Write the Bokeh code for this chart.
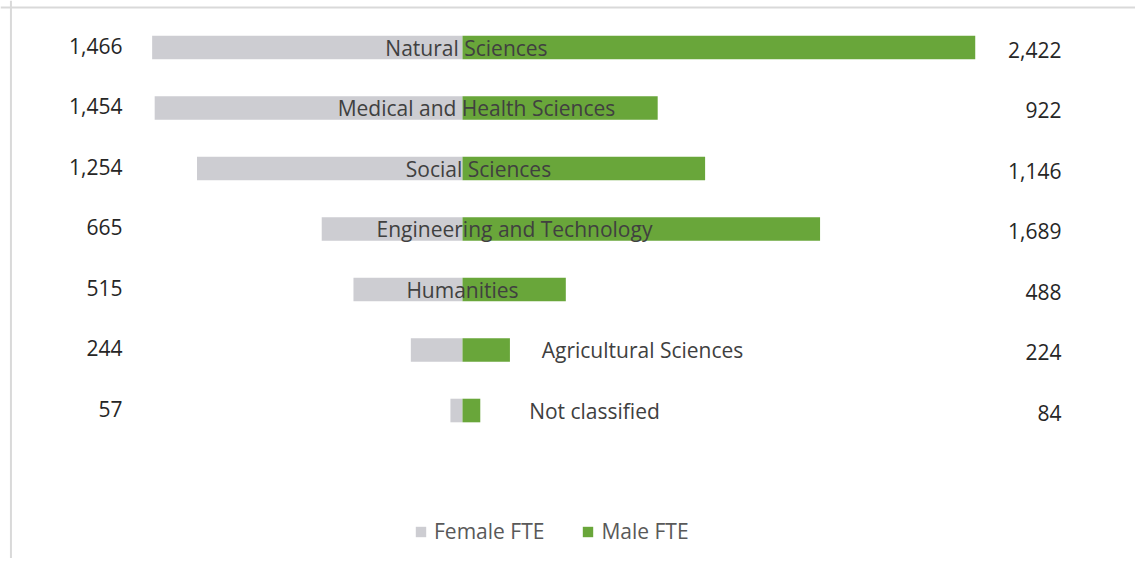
from bokeh.plotting import figure
from bokeh.models import Range1d, ColumnDataSource, Span, Legend, LegendItem
from bokeh.core.properties import value
from bokeh.embed import file_html
from bokeh.resources import INLINE

# ---- data ----
categories = ["Natural Sciences", "Medical and Health Sciences", "Social Sciences",
              "Engineering and Technology", "Humanities", "Agricultural Sciences", "Not classified"]
female_fte = [1466, 1454, 1254, 665, 515, 244, 57]
male_fte = [2422, 922, 1146, 1689, 488, 224, 84]

# ---- layout (screen-pixel offsets of category labels from the centre line) ----
label_offsets = [4, 14, 16, 52, 0, 180, 132]

FONT = "Open Sans"
FS = "21px"
GRAY = "#CDCDD2"
GREEN = "#69A63A"

rows = list(range(len(categories)))
src = ColumnDataSource(dict(
    row=rows,
    cat=categories,
    fneg=[-v for v in female_fte],
    male=male_fte,
    ftxt=[f"{v:,}" for v in female_fte],
    mtxt=[f"{v:,}" for v in male_fte],
    loff=label_offsets,
))

W, H = 1135, 558
p = figure(width=W, height=H, output_backend="svg", toolbar_location=None,
           x_range=Range1d(-2182.3, 3179), y_range=Range1d(8.446, -0.777),
           min_border=0)
p.axis.visible = False
p.grid.visible = False
p.outline_line_color = None
p.background_fill_color = "white"
p.border_fill_color = "white"

# frame lines (left and top)
p.add_layout(Span(location=-2133, dimension="height", line_color="#D9D9D9", line_width=2))
p.add_layout(Span(location=-0.661, dimension="width", line_color="#D9D9D9", line_width=2))

rf = p.hbar(y="row", left="fneg", right=0, height=0.39, source=src,
            fill_color=GRAY, line_color=None)
rm = p.hbar(y="row", left=0, right="male", height=0.39, source=src,
            fill_color=GREEN, line_color=None)

# category labels
p.text(x=0, y="row", text="cat", x_offset="loff", source=src,
       text_align="center", text_baseline="middle",
       text_font=value(FONT), text_font_size=FS, text_color="#404040")

# value labels
p.text(x=-1606, y="row", text="ftxt", y_offset=-2, source=src,
       text_align="right", text_baseline="middle",
       text_font=value(FONT), text_font_size=FS, text_color="#262626")
p.text(x=2829, y="row", text="mtxt", y_offset=2, source=src,
       text_align="right", text_baseline="middle",
       text_font=value(FONT), text_font_size=FS, text_color="#262626")

legend = Legend(items=[LegendItem(label="Female FTE", renderers=[rf]),
                       LegendItem(label="Male FTE", renderers=[rm])],
                orientation="horizontal", location=(414, 13),
                glyph_width=13, glyph_height=13, label_standoff=7, spacing=37,
                padding=0, margin=0, border_line_color=None, background_fill_alpha=0,
                label_text_font=FONT, label_text_font_size=FS, label_text_color="#595959")
p.add_layout(legend)

open("out.html", "w").write(file_html(p, INLINE))
